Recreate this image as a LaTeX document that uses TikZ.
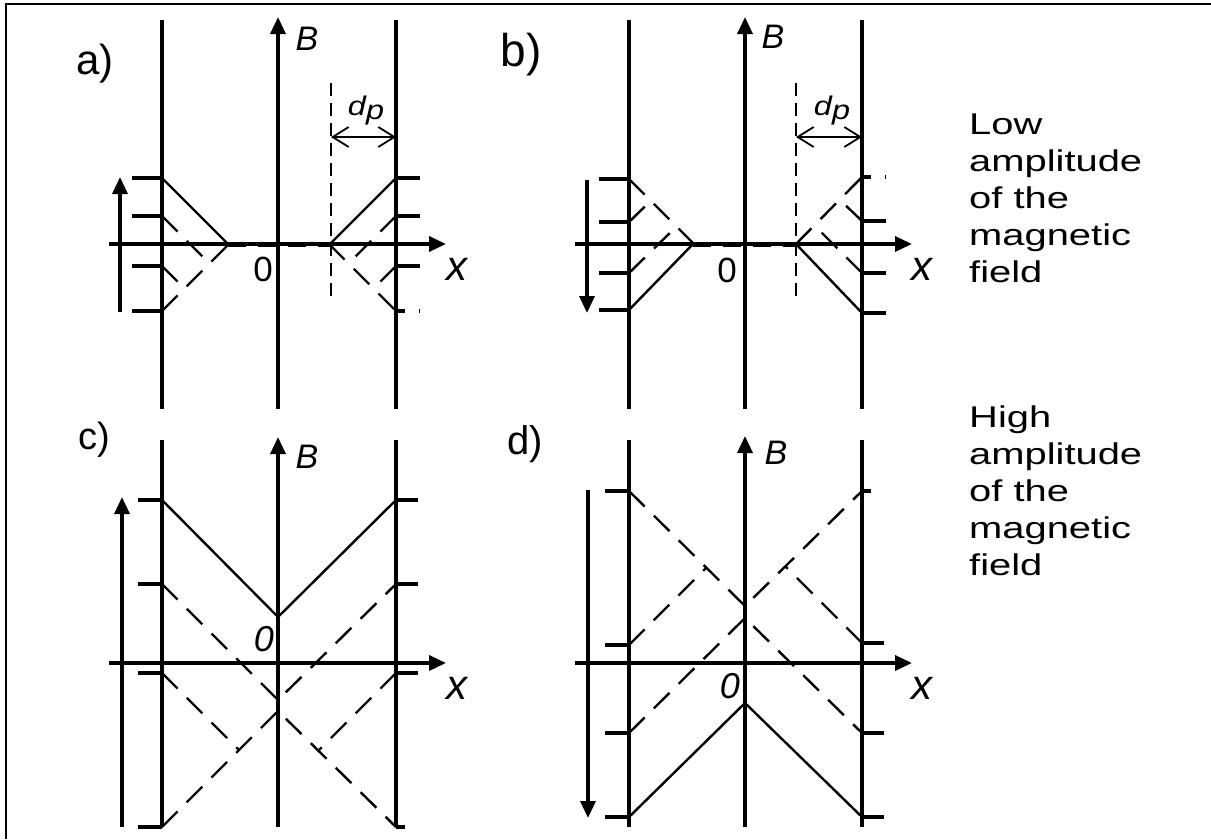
\documentclass[tikz,border=0pt]{standalone}
\usepackage{fontspec}
\setmainfont{Liberation Sans}
\newfontfamily\widefont[FakeStretch=1.33]{Liberation Sans}
\newfontfamily\dpfont[FakeStretch=1.2]{Liberation Sans}
\usetikzlibrary{arrows.meta}

\tikzset{
  wall/.style={line width=3.4pt},
  axis/.style={line width=3.4pt,-{Triangle[length=17pt,width=15pt]}},
  field/.style={line width=3.4pt,-{Triangle[length=17pt,width=15pt]}},
  tck/.style={line width=3.4pt},
  dtck/.style={line width=3.4pt,dash pattern=on 9pt off 14pt},
  prof/.style={line width=2.4pt},
  back/.style={line width=2.4pt,dash pattern=on 22pt off 13pt},
  flat/.style={line width=5pt,dash pattern=on 18pt off 12pt},
  bound/.style={line width=2.4pt,dash pattern=on 13pt off 7pt},
  pen/.style={line width=1.8pt,{Straight Barb[length=16pt,width=20pt]}-{Straight Barb[length=16pt,width=20pt]}},
  panel/.style={font=\fontsize{#1}{#1}\selectfont},
  axlab/.style={font=\fontsize{34pt}{34pt}\selectfont\itshape},
  xlab/.style={font=\fontsize{42pt}{42pt}\selectfont\itshape},
  zero/.style={font=\fontsize{35pt}{35pt}\selectfont},
  dplab/.style={font=\dpfont\fontsize{27pt}{27pt}\selectfont\itshape},
  note/.style={font=\widefont\fontsize{30pt}{36.8pt}\selectfont,align=left,anchor=base west,inner sep=0pt}
}

\begin{document}
\begin{tikzpicture}[x=1pt,y=-1pt]
\useasboundingbox (0,0) rectangle (1211,839);
\draw[line width=2.5pt] (5,4) -- (1211,4);
\draw[line width=1.5pt] (6,4) -- (6,839);

% a) low amplitude, field rising
\begin{scope}[shift={(278,244)},yscale=-1]
\draw[wall] (-116,224) -- (-116,-165);
\draw[wall] (118,224) -- (118,-165);
\draw[axis] (0,-165) -- (0,227);
\draw[axis] (-169,0) -- (168,0);
\foreach \y in {66,28,-22,-67}{
    \draw[tck] (-146,\y) -- (-116,\y);
}
\foreach \y in {66,28,-22}{
    \draw[tck] (118,\y) -- (142,\y);
}
\draw[dtck] (118,-67) -- (142,-67);
\draw[prof] (-116,66) -- (-50,0);
\draw[prof] (52,0) -- (118,66);
\draw[flat] (-50,0) -- (52,0);
\draw[back] (-116,-67) -- (-49,0);
\draw[back] (51,0) -- (118,-67);
\draw[back] (-116,28) -- (-68.5,-19.5);
\draw[back] (-116,-22) -- (-93.5,-44.5);
\draw[back] (118,28) -- (70.5,-19.5);
\draw[back] (118,-22) -- (95.5,-44.5);
\draw[field] (-158,-68) -- (-158,67);
\draw[bound] (53,161) -- (53,-56);
\coordinate (ad) at (53,107);
\coordinate (aw) at (118,107);
\draw[pen] (ad) -- (aw);
\node[axlab] (aB) at (29,205) {B};
\node[dplab] (adp) at (88,133) {d\raisebox{-4pt}{p}};
\node[xlab] (ax) at (179,-25) {x};
\node[zero] (a0) at (-15,-25) {0};
\end{scope}

% b) low amplitude, field falling
\begin{scope}[shift={(745,244)},yscale=-1]
\draw[wall] (-116,224) -- (-116,-165);
\draw[wall] (117,224) -- (117,-165);
\draw[axis] (0,-165) -- (0,227);
\draw[axis] (-170,0) -- (167,0);
\foreach \y in {65,22,-29,-66}{
    \draw[tck] (-146,\y) -- (-116,\y);
}
\foreach \y in {23,-29,-69}{
    \draw[tck] (117,\y) -- (141,\y);
}
\draw[dtck] (117,67) -- (141,67);
\draw[prof] (-116,-66) -- (-52,0);
\draw[prof] (51,0) -- (117,-69);
\draw[flat] (-52,0) -- (51,0);
\draw[back] (-116,65) -- (-51,0);
\draw[back] (51,0) -- (117,67);
\draw[back] (-116,22) -- (-94,43.5);
\draw[back] (-116,-29) -- (-68,18);
\draw[back] (117,23) -- (95,44);
\draw[back] (117,-29) -- (69,19);
\draw[field] (-158,64) -- (-158,-69);
\draw[bound] (51,161) -- (51,-56);
\coordinate (bd) at (51,107);
\coordinate (bw) at (117,107);
\draw[pen] (bd) -- (bw);
\node[axlab] (bB) at (28,207) {B};
\node[dplab] (bdp) at (87,133) {d\raisebox{-4pt}{p}};
\node[xlab] (bx) at (177,-25) {x};
\node[zero] (b0) at (-18,-26) {0};
\end{scope}

% c) high amplitude, field rising
\begin{scope}[shift={(278,663)},yscale=-1]
\draw[wall] (-116,223) -- (-116,-164);
\draw[wall] (118,223) -- (118,-164);
\draw[axis] (0,-164) -- (0,226);
\draw[axis] (-169,0) -- (168,0);
\foreach \y in {163,79,-10,-164}{
    \draw[tck] (-140,\y) -- (-116,\y);
}
\foreach \y in {163,79,-10}{
    \draw[tck] (118,\y) -- (140,\y);
}
\draw[tck] (118,-164) -- (127,-164);
\draw[prof] (-116,163) -- (0,46) -- (118,163);
\draw[back] (-116,79) -- (0,-37) -- (118,79);
\draw[back] (-116,-164) -- (0,-48) -- (118,-164);
\draw[back] (-116,-10) -- (-39,-87);
\draw[back] (118,-10) -- (41,-87);
\draw[field] (-156,-164) -- (-156,166);
\node[axlab] (cB) at (29,206) {B};
\node[xlab] (cx) at (179,-25) {x};
\node[zero,font=\fontsize{36pt}{36pt}\selectfont\itshape] (c0) at (-14,24) {0};
\end{scope}

% d) high amplitude, field falling
\begin{scope}[shift={(745,663)},yscale=-1]
\draw[wall] (-116,223) -- (-116,-164);
\draw[wall] (117,223) -- (117,-164);
\draw[axis] (0,-164) -- (0,227);
\draw[axis] (-170,0) -- (167,0);
\foreach \y in {172,18,-70,-154}{
    \draw[tck] (-140,\y) -- (-116,\y);
}
\foreach \y in {20,-70,-154}{
    \draw[tck] (117,\y) -- (139,\y);
}
\draw[tck] (117,172) -- (126,172);
\draw[prof] (-116,-154) -- (0,-40) -- (117,-154);
\draw[back] (-116,172) -- (0,57) -- (117,172);
\draw[back] (-116,-70) -- (0,45) -- (117,-70);
\draw[back] (-116,18) -- (-39,95);
\draw[back] (117,20) -- (40,97);
\draw[field] (-157,173) -- (-157,-155);
\node[axlab] (dB) at (31,210) {B};
\node[xlab] (dx) at (177,-25) {x};
\node[zero,font=\fontsize{36pt}{36pt}\selectfont\itshape] (d0) at (-15,-23) {0};
\end{scope}

\node[panel=42pt] (la) at (95,64) {a)};
\node[panel=46pt] (lb) at (521,55) {b)};
\node[panel=38pt] (lc) at (94,440) {c)};
\node[panel=40pt] (ld) at (525,444) {d)};

% text node base is the last line
\node[note] (low) at (969,282) {Low\\amplitude\\of the\\magnetic\\field};
\node[note] (high) at (969,575) {High\\amplitude\\of the\\magnetic\\field};
\end{tikzpicture}
\end{document}
